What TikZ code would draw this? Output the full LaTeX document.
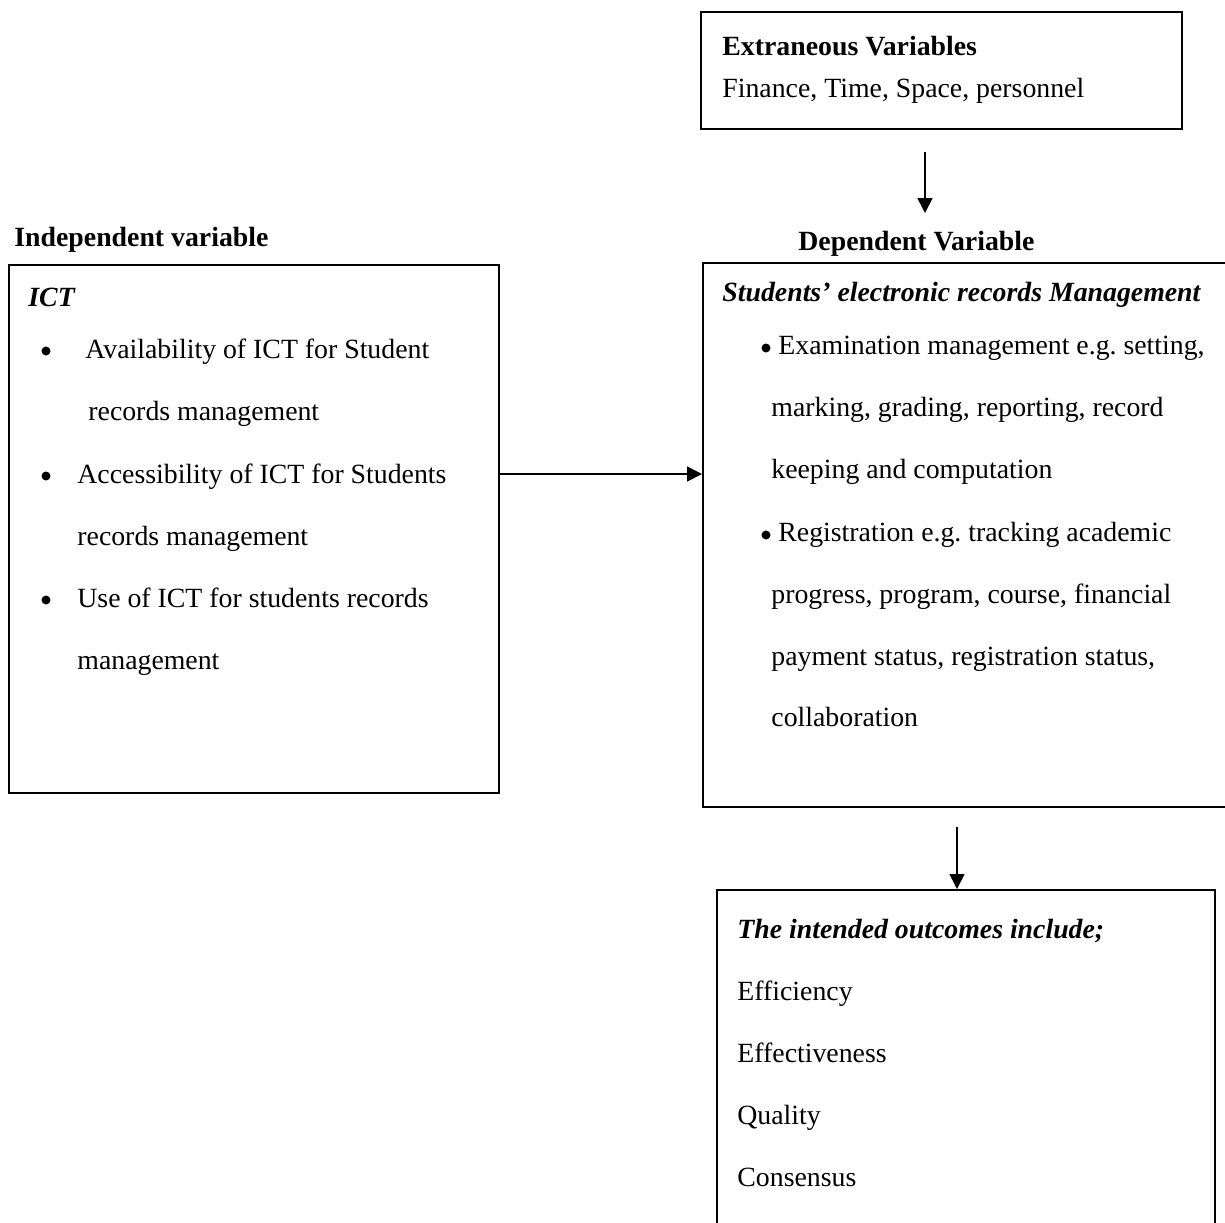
\documentclass[tikz,border=0pt]{standalone}
\usepackage{fontspec}
\setmainfont{Liberation Serif}
\usetikzlibrary{arrows.meta}
\frenchspacing
\begin{document}
\begin{tikzpicture}[x=0.5pt,y=-0.5pt,
  box/.style={draw,line width=1pt,rectangle,anchor=north west,inner sep=0pt},
  txt/.style={anchor=base west,inner sep=0pt,font=\fontsize{13.9}{16}\selectfont},
  hdr/.style={anchor=base west,inner sep=0pt,font=\fontsize{13.9}{16}\selectfont\bfseries},
  hdri/.style={anchor=base west,inner sep=0pt,font=\fontsize{13.9}{16}\selectfont\bfseries\itshape},
  bul/.style={circle,fill,inner sep=0pt,minimum size=4.5pt},
  arr/.style={-{Triangle[length=7.5pt,width=7.5pt]},line width=0.8pt}]
\useasboundingbox (0,0) rectangle (1225,1222);
\clip (0,0) rectangle (1225,1222);
% boxes
\node[box,minimum width=240.5pt,minimum height=58.5pt] (ext) at (700,11) {};
\node[box,minimum width=245pt,minimum height=264pt] (ict) at (8,264) {};
\node[box,minimum width=271.5pt,minimum height=272pt] (dep) at (702,262) {};
\node[box,minimum width=249pt,minimum height=185.5pt] (out) at (716,889) {};
% extraneous
\node[hdr] (extT) at (722,55) {Extraneous Variables};
\node[txt] (extL) at (722,97) {Finance, Time, Space, personnel};
% headings
\node[hdr] (indH) at (14,246) {Independent variable};
\node[hdr] (depH) at (798,250) {Dependent Variable};
% left box
\node[hdri] (ictT) at (28,306) {ICT};
\node[bul] (b1) at (46,351) {};
\node[txt] (l1) at (85,358) {Availability of ICT for Student};
\node[txt] (l2) at (88,420) {records management};
\node[bul] (b2) at (46,476) {};
\node[txt] (l3) at (77,483) {Accessibility of ICT for Students};
\node[txt] (l4) at (77,545) {records management};
\node[bul] (b3) at (46,600) {};
\node[txt] (l5) at (77,607) {Use of ICT for students records};
\node[txt] (l6) at (77,669) {management};
% right box
\node[hdri] (depT) at (722,301) {Students’ electronic records Management};
\node[bul] (b4) at (766,348) {};
\node[txt] (r1) at (778,354) {Examination management e.g. setting,};
\node[txt] (r2) at (771,416) {marking, grading, reporting, record};
\node[txt] (r3) at (771,478) {keeping and computation};
\node[bul] (b5) at (766,535) {};
\node[txt] (r4) at (778,541) {Registration e.g. tracking academic};
\node[txt] (r5) at (771,603) {progress, program, course, financial};
\node[txt] (r6) at (771,665) {payment status, registration status,};
\node[txt] (r7) at (771,726) {collaboration};
% outcomes box
\node[hdri] (outT) at (737,938) {The intended outcomes include;};
\node[txt] (o1) at (737,1000) {Efficiency};
\node[txt] (o2) at (737,1062) {Effectiveness};
\node[txt] (o3) at (737,1124) {Quality};
\node[txt] (o4) at (737,1186) {Consensus};
% arrows
\coordinate (a1s) at (925,152);
\coordinate (a1e) at (925,213);
\draw[arr] (a1s) -- (a1e);
\draw[arr] (ict.east |- 0,474) -- (dep.west |- 0,474);
\coordinate (a2s) at (957,827);
\draw[arr] (a2s) -- (a2s |- out.north);
\end{tikzpicture}
\end{document}
